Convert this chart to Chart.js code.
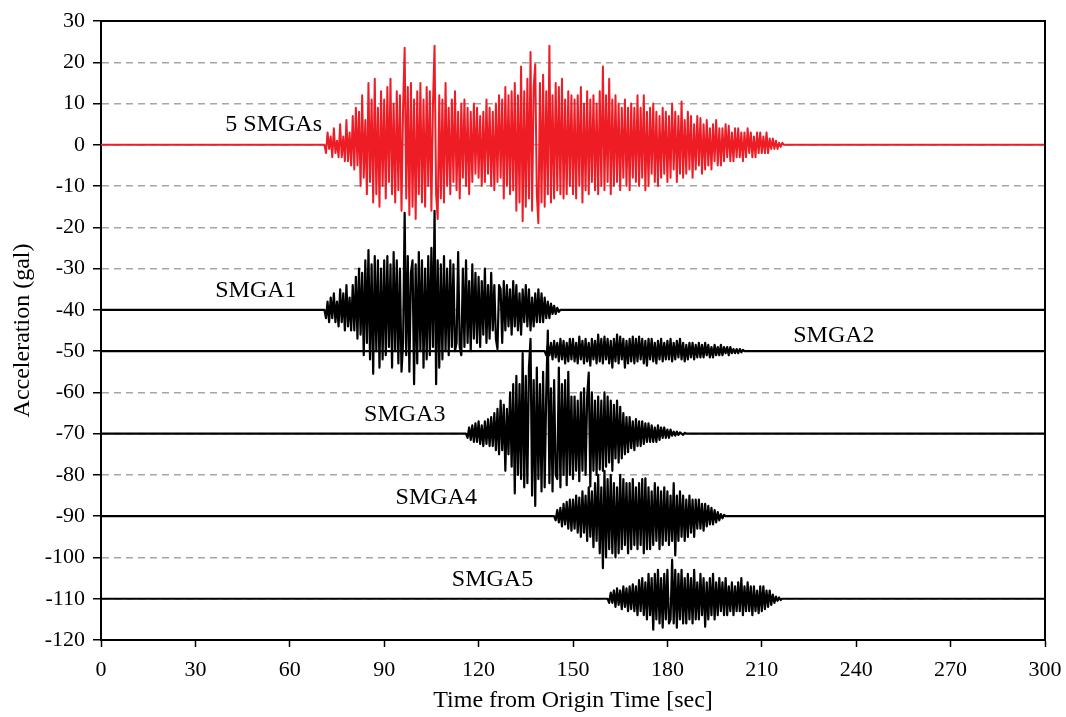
<!DOCTYPE html>
<html>
<head>
<meta charset="utf-8">
<script src="https://cdn.jsdelivr.net/npm/chart.js@4"></script>
<style>
  body { margin: 0; background: #fff; }
  canvas { display: block; }
</style>
</head>
<body>
<canvas id="chart" width="1066" height="717"></canvas>
<script>
const DT = 0.5;

// axis ticks
const xTicks = [0, 30, 60, 90, 120, 150, 180, 210, 240, 270, 300];
const yTicks = [30, 20, 10, 0, -10, -20, -30, -40, -50, -60, -70, -80, -90, -100, -110, -120];

// trace names, baselines (gal) and start times (sec)
const traceNames = ["5 SMGAs", "SMGA1", "SMGA2", "SMGA3", "SMGA4", "SMGA5"];
const baselines = [0, -40, -50, -70, -90, -110];
const startTimes = [71, 71, 141, 116, 144, 161];

// label positions (sec, gal)
const labelTimes = [39.5, 36.3, 220, 83.6, 93.6, 111.5];
const labelValues = [4.8, -35.4, -46.2, -65.5, -85.4, -105.4];

// amplitudes relative to each baseline, one value every DT seconds
const sumWave = [
  0,-2,3,-1,2,-3,4,-2,1,-3,5,-3,2,-4,6,-4,3,-5,
  7,-6,9,-5,8,-10,12,-8,6,-12,15,-9,11,-14,16,-12,9,-15,13,-10,
  11,-13,14,-9,16,-12,10,-14,13,-11,12,-16,9,23.5,-13,14,-17,15,-15,11,
  -18,13,-12,15,-14,11,-15,14,-10,13,-16,10,24,-12,-18,12,-13,11,-14,15,
  -10,9,-12,11,-9,13,-11,8,-13,10,-8,11,-10,9,-12,8,-9,10,-7,9,
  -8,7,-10,8,-9,11,-7,9,-10,8,-11,10,-9,12,-8,11,-13,14,-10,12,
  -12,13,-11,15,-16,12,-14,19,-18.5,13,-15,16,-13,22.5,-16,14,19.5,-12,-19,15,
  -14,17,-15,13,-12,24,-14,12,-13,15,-11,14,-12,16,-13,11,-12,13,-10,12,
  -12,11,-13,12,-10,14,-14,10,-11,13,-12,11,-9,12,-11,10,-12,13,-10,19,
  -11,12,-9,16,-12,11,-10,12,-9,10,-11,9,-8,11,-10,9,-11,10,-8,9,
  -9,12,-10,9,-8,12,-11,8,-10,9,-7,10,-9,8,-10,7,-8,9,-7,8,
  -9,7,-8,10,-6,8,-9,7,-7,10.5,-8,6,-7,8,-6,7,-8,5,-6,7,
  -5,6.5,-7,5,-6,6,-5,4,-6,5,-4,6,-5,4,-5,4,-4,5,-3,4.6,
  -4,3,-4,4,-3,4,-3,3,-4,3,-3,4,-2,3,-3,2,-3,3,-2,3,
  -2,2,-2,3,-2,1.5,-1,1.5,-1,1,-1,0.5,-0.5,0.5,0
];

const smga1 = [
  0,-2,2,-3,3,-2,4,-3,2,-4,5,-3,4,-5,6,-4,3,-5,
  6,-5,8,-7,10,-6,9,-11,12,-8,14.5,-12,11,-15.5,13,-10,12,-14,10,-12,
  12,-11,13,-9,11,-14,14,-10,12,-13,10,-15,-8,23.5,-11,13,-15,9,12,-18,
  11,-13,14,-10,12,-14,10,-12,13,-11,15,-9,24,-18,12,-14,11,-12,13,-10,
  10,-11,12,-9,11,-10,-8,14,-9,-11,10,-9,12,-8,7,-10,11,-7,9,-8,
  8,-9,7,-6,10,-8,6,-7,9,-5,6,-7,-9.5,6,5,-8,7,-5,6,-4,
  5,-6,7,-4,6,-5,4,-6,5,-3,6,-4,5,-5,3,-4,4,-3,5,-3,
  4,-3,3,-2,2,-2,1.5,-1,1,-1,0.5,-0.5,0
];

const smga2 = [
  0,-1,1.5,-1,2,-2,2.5,-1.5,2,-2.5,3,-2,2.5,-3,2,-2.5,3,-2,
  3,-2.5,2,-3,3.5,-2,2.5,-3,3,-2.5,2,-3.5,3,-2,2.5,-3,4,-2.5,3,-3,
  3.5,-2,3,-3,2.5,-4,3,-2.5,4,-3,3.5,-2,3,-4,2.5,-3,3,-2.5,3.5,-3,
  3,-2.5,3.5,-2,3,-3,2.5,-3.5,3,-2,3,-2.5,2,-3,2.5,-2,3,-2.5,2,-2,
  2.5,-2,3,-2.5,2,-2,2.5,-1.5,3,-2,2,-2.5,1.5,-2,2,-1.5,2,-2,1.5,-1.5,
  2,-1.5,1.5,-1.5,2,-1,1.5,-1.5,1,-1.5,1.5,-1,1,-1,1.5,-1,1,-0.5,1,-1,
  1,-0.5,0.5,-0.5,0.5,-0.5,0.5,-0.3,0.3,0,0
];

const smga3 = [
  0,-1,1.5,-1.5,2,-2,2.5,-2,3,-2.5,2,-3,3,-2.5,3.5,-3,4,-3,
  5,-4,6,-5,8,-4,7,-9,6,-5,10,-8,12,-14.5,14,-10,12,-11,19.5,-13,
  14,-12,16,23,-15,13,-17.5,16,-11,12,-14,15,-13,10,25,-12,11,-14,13,-10,
  -11,16,-13,12,-10,13,-12.5,15,-10,9,-11,9,-9,8,-11.5,10,-9,11,-10,9,
  14.8,-12.8,10,-9,8,-10,9,-8.7,8,-9,10,-8,9,-7,8,-9,7,-6,8,-7,
  6.5,-6,5,-5,4,-4.5,4,-3.5,3,-4,3.5,-3,3,-3,3,-2.5,2.5,-2,2.5,-2,
  2,-2,1.5,-2,2,-1.5,1.5,-1,1.5,-1,1,-1,1,-0.5,0.5,-0.5,0.5,-0.3,0.3,0,-0.3,0.2,0
];

const smga4 = [
  0,-1,1.5,-1.5,2,-2.5,3,-2,3.5,-3,4,-3.5,
  4,-3,5,-4,4.5,-5,6,-4,5,-6,7,-5,6,-7.5,8,-6,10,-9,7,-12.6,
  11,-10,9,-8,10,-9,8,-10,7,-9,10,-8,9,-7,8,-9,8,-8,9,-7,
  7,-8,8,-7,9,-9,9.2,-8,7,-8,6,-7,8,-6,7,-8,6,-7,7,-6,
  6,-7,5,-6,8,-9.5,5,-6,6,-5,5,-6,4,-5,5,-4,4,-5,4,-3,
  4,-3,3,-3.5,3,-2.5,2.5,-2,2,-2,1.5,-1.5,1,-1,0.5,-0.5,0.3,0
];

const smga5 = [
  0,-1,1.5,-1,2,-2,2.5,-1.5,2,-2.5,3,-2,2.5,-3,3,-2.5,3.5,-3,
  3,-4,4.5,-3,5,-4,4,-5,6,-4,5,-7.5,6,-5,7,-6,5,-7,6,-5,
  7,-6,-5,9.4,-6,7,-7,6,-5,7,-6,5,-6,6,-5,5,-6,7,-5,4,
  -5,6,-4,5,-6.8,4,-5,5,-4,6,-5,4,-4,5,-3,4,-4,5,-4,3,
  -3,4,-4,3,-3,4,-3,5,-4,3,-3,4,-3,3,-4,3,-3,2,-3.5,3,
  -3,3,-2.5,2,-2,2,-1.5,1,-1,0.5,-0.5,0.3,-0.3,0
];

const traceValues = [sumWave, smga1, smga2, smga3, smga4, smga5];

const RED = "#ee1c25";
const BLACK = "#000000";
const SERIF = '"Liberation Serif", "Times New Roman", serif';

function buildTrace(start, values, base) {
  const pts = [{ x: 0, y: base }];
  values.forEach((v, i) => pts.push({ x: start + i * DT, y: base + v }));
  pts.push({ x: 300, y: base });
  return pts;
}

const datasets = traceValues.map((vals, k) => ({
  label: traceNames[k],
  data: buildTrace(startTimes[k], vals, baselines[k]),
  borderColor: k === 0 ? RED : BLACK,
  borderWidth: k === 0 ? 2 : 2.2,
  borderJoinStyle: "round",
  pointRadius: 0,
  tension: 0,
  fill: false
}));

// trace names written beside each trace
const traceLabels = {
  id: "traceLabels",
  afterDatasetsDraw(chart) {
    const { ctx, scales } = chart;
    ctx.save();
    ctx.font = "24px " + SERIF;
    ctx.fillStyle = "#000";
    ctx.textAlign = "left";
    ctx.textBaseline = "middle";
    traceNames.forEach((name, k) => {
      ctx.fillText(name, scales.x.getPixelForValue(labelTimes[k]), scales.y.getPixelForValue(labelValues[k]));
    });
    ctx.restore();
  }
};

// box round the plot area
const frame = {
  id: "frame",
  afterDraw(chart) {
    const a = chart.chartArea;
    const ctx = chart.ctx;
    ctx.save();
    ctx.strokeStyle = "#000";
    ctx.lineWidth = 2;
    ctx.beginPath();
    ctx.moveTo(a.left, a.top);
    ctx.lineTo(a.right, a.top);
    ctx.lineTo(a.right, a.bottom);
    ctx.stroke();
    ctx.restore();
  }
};

new Chart(document.getElementById("chart"), {
  type: "line",
  data: { datasets: datasets },
  options: {
    responsive: false,
    animation: false,
    devicePixelRatio: 1,
    layout: { padding: { top: 21, right: 21, left: 0, bottom: 0 } },
    plugins: {
      legend: { display: false },
      tooltip: { enabled: false }
    },
    scales: {
      x: {
        type: "linear",
        min: 0,
        max: 300,
        afterBuildTicks: (scale) => { scale.ticks = xTicks.map(v => ({ value: v })); },
        afterFit: (scale) => {
          scale.height = 77;
          scale.paddingLeft = 0;
          scale.paddingRight = 0;
        },
        ticks: {
          color: "#000",
          font: { family: SERIF, size: 22 },
          padding: 10,
          maxRotation: 0
        },
        grid: {
          drawOnChartArea: false,
          drawTicks: true,
          tickLength: 7,
          tickColor: "#000",
          tickWidth: 1.5
        },
        border: { color: "#000", width: 2 },
        title: {
          display: true,
          text: "Time from Origin Time [sec]",
          color: "#000",
          font: { family: SERIF, size: 24 },
          padding: { top: 0, bottom: 2 }
        }
      },
      y: {
        type: "linear",
        min: -120,
        max: 30,
        afterBuildTicks: (scale) => { scale.ticks = yTicks.map(v => ({ value: v })); },
        afterFit: (scale) => {
          scale.width = 101;
          scale.paddingTop = 0;
          scale.paddingBottom = 0;
        },
        ticks: {
          color: "#000",
          font: { family: SERIF, size: 22 },
          padding: 8
        },
        grid: {
          color: "#a6a6a6",
          lineWidth: 1.5,
          tickLength: 8,
          tickColor: "#000",
          tickWidth: 1.5,
          tickBorderDash: []
        },
        border: { color: "#000", width: 2, dash: [7, 5] },
        title: {
          display: true,
          text: "Acceleration (gal)",
          color: "#000",
          font: { family: SERIF, size: 24 },
          padding: { top: 8, bottom: 0 }
        }
      }
    }
  },
  plugins: [traceLabels, frame]
});
</script>
</body>
</html>
